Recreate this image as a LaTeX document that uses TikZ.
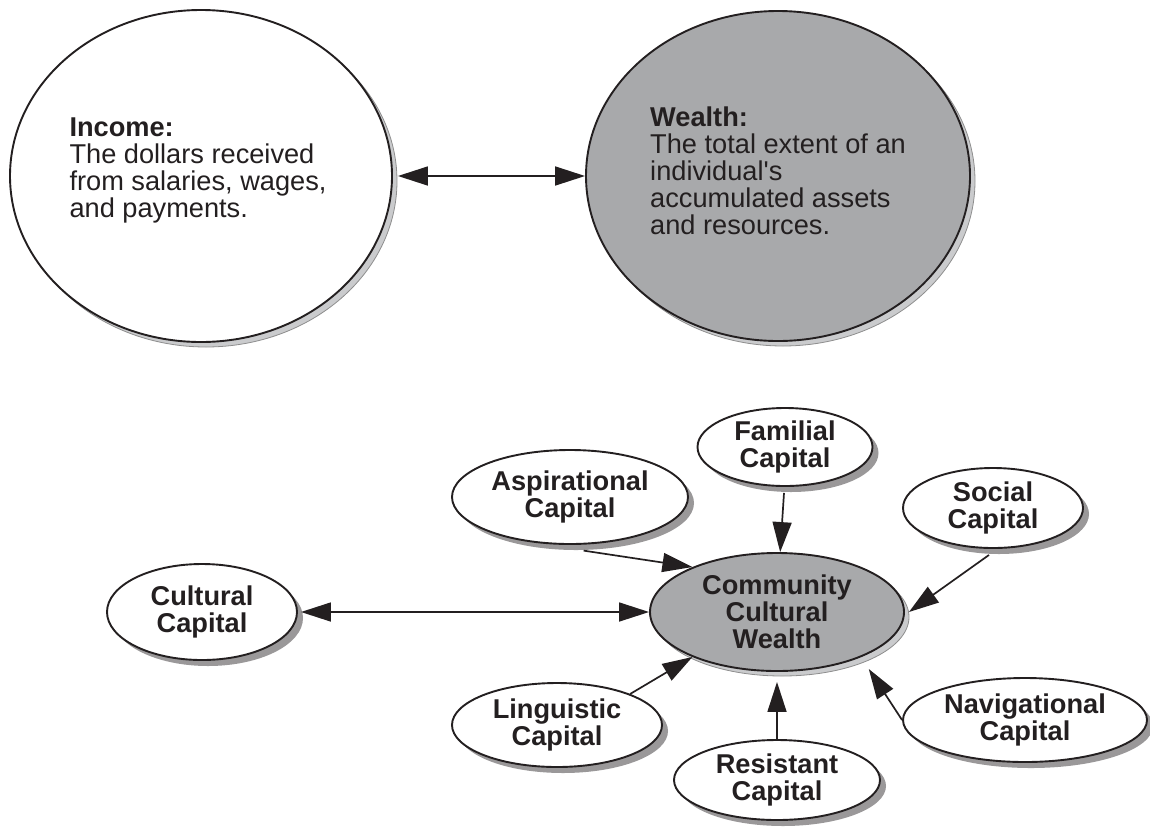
\documentclass[tikz,border=0pt]{standalone}
\usepackage{fontspec}
\setmainfont{Liberation Sans}[Ligatures=TeXOff]
\usetikzlibrary{shapes.geometric,arrows.meta,shadows}
\definecolor{wgray}{HTML}{A8A9AB}
\definecolor{shlight}{HTML}{CACBCD}
\definecolor{shedge}{HTML}{8E8E8E}
\definecolor{shdark}{HTML}{9A9899}
\definecolor{ink}{HTML}{231F20}
\begin{document}
\begin{tikzpicture}[x=1pt,y=-1pt,
  every node/.style={font=\fontsize{27.2}{27}\selectfont, text=ink},
  lightshadow/.style={drop shadow={shadow xshift=5pt,shadow yshift=-5pt,fill=shlight,draw=shedge,line width=0.8pt,opacity=1}},
  darkshadow/.style={drop shadow={shadow xshift=6pt,shadow yshift=-6pt,fill=shdark,opacity=1}},
  bigell/.style={ellipse, draw=ink, line width=1.9pt, inner sep=0pt, lightshadow},
  bigtext/.style={align=left, inner sep=0pt},
  smallell/.style={ellipse, draw=ink, line width=1.9pt, inner sep=0pt, align=center, fill=white, darkshadow,
    font=\fontsize{27.2}{27}\selectfont\bfseries},
  centerell/.style={ellipse, draw=ink, line width=1.9pt, inner sep=0pt, align=center, fill=wgray, lightshadow,
    font=\fontsize{27.2}{27}\selectfont\bfseries},
  arr/.style={draw=ink, line width=1.7pt, -{Triangle[length=30pt,width=19pt]}},
  biarr/.style={draw=ink, line width=1.7pt, {Triangle[length=30pt,width=19pt]}-{Triangle[length=30pt,width=19pt]}}
]
\useasboundingbox (0,0) rectangle (1150,828);

\node[bigell, fill=white, minimum width=382pt, minimum height=332pt] (inc) at (201,176) {};
\node[bigtext] (inctext) at (198,170)
  {\textbf{Income:}\\The dollars received\\from salaries, wages,\\and payments.};
\node[bigell, fill=wgray, minimum width=384pt, minimum height=330pt] (wea) at (778,176) {};
\node[bigtext] (weatext) at (778,171)
  {\textbf{Wealth:}\\The total extent of an\\individual's\\accumulated assets\\and resources.};

\node[centerell, minimum width=254pt, minimum height=118pt] (ccw) at (777,612) {Community\\Cultural\\Wealth};
\node[smallell, minimum width=175pt, minimum height=78pt] (fam) at (785,447) {Familial\\Capital};
\node[smallell, minimum width=236pt, minimum height=94pt] (asp) at (570,497) {Aspirational\\Capital};
\node[smallell, minimum width=180pt, minimum height=80pt] (soc) at (993,508) {Social\\Capital};
\node[smallell, minimum width=190pt, minimum height=96pt] (cul) at (202,612) {Cultural\\Capital};
\node[smallell, minimum width=210pt, minimum height=84pt] (lin) at (557,725) {Linguistic\\Capital};
\node[smallell, minimum width=206pt, minimum height=80pt] (res) at (777,780) {Resistant\\Capital};
\node[smallell, minimum width=244pt, minimum height=84pt] (nav) at (1025,720) {Navigational\\Capital};

\draw[biarr] ([xshift=5pt]inc.east) -- (wea.west);
\draw[biarr] ([xshift=3pt]cul.east) -- (ccw.west);
\draw[arr] ([shift={(-1,6)}]fam.south) -- (ccw.87);
\draw[arr] ([shift={(0,6)}]asp.-74) -- (ccw.152);
\draw[arr] ([shift={(-4,6)}]soc.south) -- ([xshift=4pt]ccw.east);
\draw[arr] (lin.23) -- (ccw.208);
\draw[arr] (res.north) -- ([shift={(0,10)}]ccw.south);
\draw[arr] (nav.west) -- ([shift={(15,9)}]ccw.-32);
\end{tikzpicture}
\end{document}
